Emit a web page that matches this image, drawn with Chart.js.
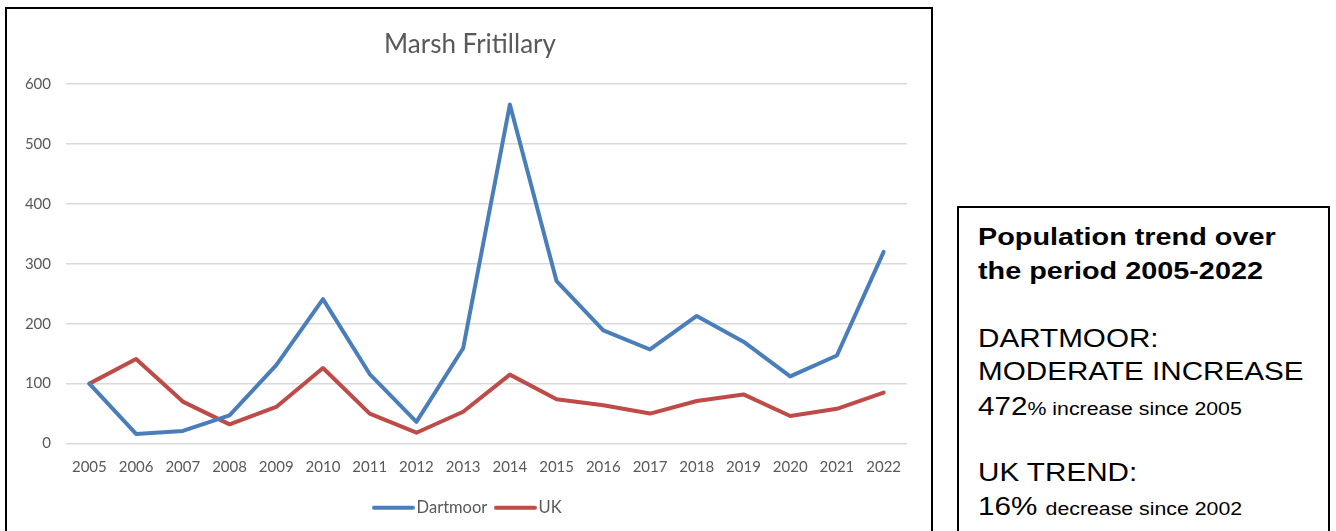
<!DOCTYPE html>
<html>
<head>
<meta charset="utf-8">
<script src="https://cdn.jsdelivr.net/npm/chart.js@4/dist/chart.umd.min.js"></script>
<style>
  html, body { margin: 0; padding: 0; background: #fff; overflow: hidden; }
  body { width: 1336px; height: 531px; position: relative; }
  #frame { position: absolute; left: 5px; top: 7px; width: 924px; height: 540px; border: 2px solid #000; }
  #wrap { position: absolute; left: 0; top: 0; width: 926px; height: 517px; }
  #info { position: absolute; left: 957px; top: 206px; width: 369px; height: 400px; border: 2px solid #000; }
  .ln { position: absolute; left: 978px; height: 30px; line-height: 30px; white-space: nowrap;
        font-family: "Liberation Sans", Arial, sans-serif; color: #000;
        transform-origin: left center; }
  .b { font-weight: bold; font-size: 24px; transform: scaleX(1.2); }
  .r { font-size: 26px; transform: scaleX(1.14); }
  .s { font-size: 18.7px; }
</style>
</head>
<body>
<div id="frame"><div id="wrap"><canvas id="myChart"></canvas></div></div>
<div id="info"></div>
<div class="ln b" style="top:222px">Population trend over</div>
<div class="ln b" style="top:256px">the period 2005-2022</div>
<div class="ln r" style="top:323px">DARTMOOR:</div>
<div class="ln r" style="top:356px">MODERATE INCREASE</div>
<div class="ln r" style="top:391px">472<span class="s">% increase since 2005</span></div>
<div class="ln r" style="top:457px">UK TREND:</div>
<div class="ln r" style="top:491px">16% <span class="s">decrease since 2002</span></div>
<script>
const years = ["2005", "2006", "2007", "2008", "2009", "2010", "2011", "2012", "2013",
  "2014", "2015", "2016", "2017", "2018", "2019", "2020", "2021", "2022"];
const dartmoor = [100, 16, 21, 47, 131, 241, 116, 36, 159, 566, 271, 189, 157, 213, 170, 112, 147, 320];
const uk = [100, 141, 70, 32, 61, 126, 50, 18, 53, 115, 74, 64, 50, 71, 82, 46, 58, 85];
const yTicks = [0, 100, 200, 300, 400, 500, 600];

const grey = "#595959";
const font = { family: "Lato", size: 15 };
const blue = "#4a7ebb";
const red = "#be4b48";

// legend swatch: short thick line that runs almost up to the label
function swatch(color) {
  const c = document.createElement("canvas");
  c.width = 43;
  c.height = 6;
  const g = c.getContext("2d");
  g.strokeStyle = color;
  g.lineWidth = 4;
  g.lineCap = "round";
  g.beginPath();
  g.moveTo(2, 3);
  g.lineTo(41, 3);
  g.stroke();
  return c;
}

const ctx = document.getElementById("myChart");

new Chart(ctx, {
  type: "line",
  data: {
    labels: years,
    datasets: [
      {
        label: "Dartmoor",
        data: dartmoor,
        borderColor: blue,
        backgroundColor: blue,
        borderWidth: 4,
        pointRadius: 0,
        pointStyle: swatch(blue),
        borderJoinStyle: "round",
        borderCapStyle: "round",
      },
      {
        label: "UK",
        data: uk,
        borderColor: red,
        backgroundColor: red,
        borderWidth: 4,
        pointRadius: 0,
        pointStyle: swatch(red),
        borderJoinStyle: "round",
        borderCapStyle: "round",
      },
    ],
  },
  options: {
    responsive: true,
    maintainAspectRatio: false,
    animation: false,
    layout: { padding: 0 },
    plugins: {
      title: {
        display: true,
        text: "Marsh Fritillary",
        color: grey,
        font: { family: "Lato", size: 26, weight: "normal" },
        padding: { top: 20, bottom: 24 },
      },
      legend: {
        position: "bottom",
        labels: {
          usePointStyle: true,
          pointStyleWidth: 30,
          color: grey,
          font: { family: "Lato", size: 16.5 },
          padding: 13,
        },
      },
      tooltip: { enabled: false },
    },
    scales: {
      x: {
        offset: true,
        grid: { display: false, drawTicks: false },
        border: { display: false },
        ticks: { color: grey, font: font, padding: 15, maxRotation: 0 },
        afterFit: (s) => { s.height = 43; },
      },
      y: {
        min: 0,
        max: 600,
        afterBuildTicks: (s) => { s.ticks = yTicks.map((v) => ({ value: v })); },
        ticks: { color: grey, font: font, padding: 15 },
        grid: { color: "#d9d9d9", lineWidth: 1.5, drawTicks: false },
        border: { display: false },
        afterFit: (s) => { s.width = 59; },
      },
      // empty spacer on the right so the plot stops short of the frame
      spacer: {
        type: "linear",
        position: "right",
        grid: { display: false, drawTicks: false },
        ticks: { display: false },
        border: { display: false },
        afterFit: (s) => { s.width = 26; },
      },
    },
  },
});
</script>
</body>
</html>
